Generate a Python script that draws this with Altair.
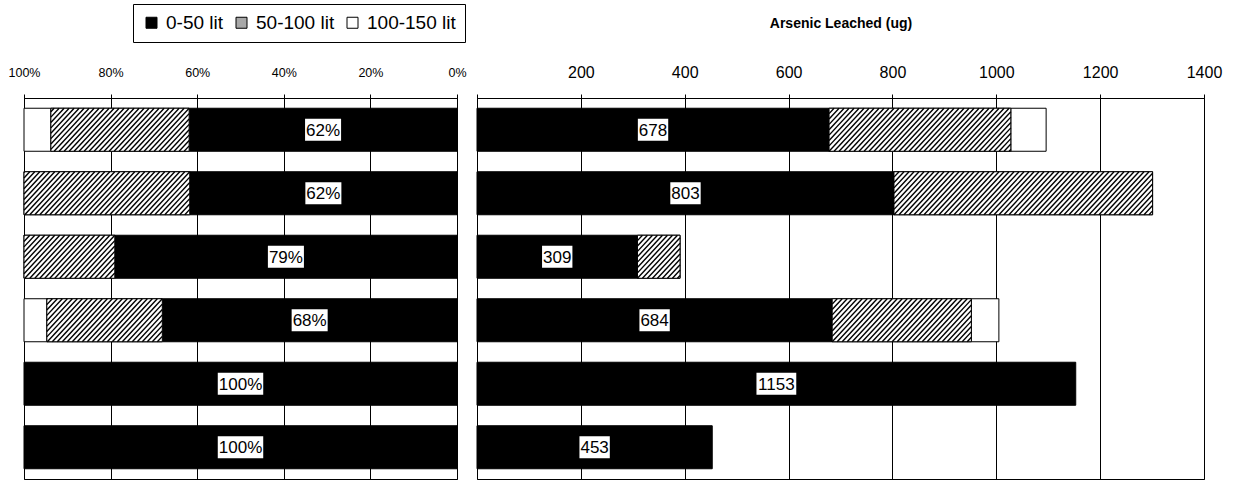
import altair as alt
import pandas as pd

# ---------------- data ----------------
row_ids = [1, 2, 3, 4, 5, 6]
segments = ["0-50 lit", "50-100 lit", "100-150 lit"]
leach_0_50 = [678, 803, 309, 684, 1153, 453]
leach_50_100 = [350, 498, 82, 268, 0, 0]
leach_100_150 = [68, 0, 0, 53, 0, 0]
pct_ticks = [0, 20, 40, 60, 80, 100]
ug_ticks = [0, 200, 400, 600, 800, 1000, 1200, 1400]
right_title = "Arsenic Leached (ug)"

# ---------------- build table ----------------
records = []
for i, r in enumerate(row_ids):
    vals = [leach_0_50[i], leach_50_100[i], leach_100_150[i]]
    total = sum(vals)
    cum = 0
    for seg, v in zip(segments, vals):
        if v <= 0:
            continue
        rec = dict(row=r, seg=seg, vstart=cum, vend=cum + v,
                   pstart=cum / total * 100, pend=(cum + v) / total * 100,
                   plabel="", vlabel="")
        if seg == segments[0]:
            rec["plabel"] = f"{round(v / total * 100)}%"
            rec["vlabel"] = str(v)
        records.append(rec)
        cum += v
df = pd.DataFrame(records)

# ---------------- styling constants ----------------
FONT = "Liberation Sans"
H = 0.3386          # half bar thickness in row units
LEFT_W, RIGHT_W, PLOT_H = 433, 727, 381
HATCH_SP = 5.0      # px between hatch lines (horizontal)
HATCH_D = 40.0      # px horizontal shift of a hatch line over bar height
LABEL_FS = 17
HATCH_LEGEND_GRAY = "#a8a8a8"

CHAR_W = {"%": 0.889}


def box_shape(text, fs=LABEL_FS, pad=2, h=22, unit=10):
    w = sum(CHAR_W.get(c, 0.556) for c in text) * fs + pad
    hw, hh = w / 2 / unit, h / 2 / unit
    return f"M{-hw:.3f},{-hh:.3f}H{hw:.3f}V{hh:.3f}H{-hw:.3f}Z"


def panel(a, b, domain, reverse, axis, ppu, sign, labfield, legend, width):
    ysc = alt.Scale(domain=[0.5, 6.5], reverse=True, nice=False, zero=False)
    xsc = alt.Scale(domain=domain, reverse=reverse, nice=False, zero=False)
    base = alt.Chart(df).transform_calculate(ylo=f"datum.row - {H}", yhi=f"datum.row + {H}")

    bars = base.mark_rect(stroke="black", strokeWidth=1).encode(
        x=alt.X(f"{a}:Q", scale=xsc, axis=axis),
        x2=f"{b}:Q",
        y=alt.Y("ylo:Q", scale=ysc, axis=None),
        y2="yhi:Q",
        color=alt.Color("seg:N", scale=alt.Scale(domain=segments, range=["black", HATCH_LEGEND_GRAY, "white"]),
                        legend=legend),
    )

    white = base.transform_filter(alt.datum.seg == segments[1]).mark_rect(
        fill="white", stroke="black", strokeWidth=1).encode(
        x=alt.X(f"{a}:Q", scale=xsc, axis=axis), x2=f"{b}:Q",
        y=alt.Y("ylo:Q", scale=ysc, axis=None), y2="yhi:Q")

    sp = HATCH_SP / ppu
    d = sign * HATCH_D / ppu
    ad = abs(d)
    hatch = (alt.Chart(df)
             .transform_filter(alt.datum.seg == segments[1])
             .transform_calculate(k=f"sequence(0, ceil((datum.{b} - datum.{a} + {2 * ad})/{sp}) + 1)")
             .transform_flatten(["k"])
             .transform_calculate(vb=f"datum.{a} - {ad} + datum.k * {sp}")
             .transform_calculate(ta=f"(datum.{a} - datum.vb) / ({d})", tb=f"(datum.{b} - datum.vb) / ({d})")
             .transform_calculate(t0="max(0, min(datum.ta, datum.tb))", t1="min(1, max(datum.ta, datum.tb))")
             .transform_filter("datum.t1 > datum.t0")
             .transform_calculate(hx1=f"datum.vb + datum.t0 * ({d})", hx2=f"datum.vb + datum.t1 * ({d})",
                                  hy1=f"datum.row + {H} - datum.t0 * {2 * H}",
                                  hy2=f"datum.row + {H} - datum.t1 * {2 * H}")
             .mark_rule(color="black", strokeWidth=1.4)
             .encode(x=alt.X("hx1:Q", scale=xsc, axis=axis), x2="hx2:Q",
                     y=alt.Y("hy1:Q", scale=ysc, axis=None), y2="hy2:Q"))

    labels = list(dict.fromkeys(df.loc[df.seg == segments[0], labfield]))
    lab_base = base.transform_filter(alt.datum.seg == segments[0]).transform_calculate(
        mid=f"(datum.{a} + datum.{b}) / 2")
    boxes = lab_base.mark_point(filled=True, color="white", opacity=1, size=400, strokeWidth=0).encode(
        x=alt.X("mid:Q", scale=xsc, axis=axis), y=alt.Y("row:Q", scale=ysc, axis=None),
        shape=alt.Shape(f"{labfield}:N", scale=alt.Scale(domain=labels, range=[box_shape(t) for t in labels]),
                        legend=None))
    texts = lab_base.mark_text(fontSize=LABEL_FS, color="black", font=FONT, dy=1).encode(
        x=alt.X("mid:Q", scale=xsc, axis=axis), y=alt.Y("row:Q", scale=ysc, axis=None), text=f"{labfield}:N")

    return alt.layer(bars, white, hatch, boxes, texts).properties(width=width, height=PLOT_H)


left_axis = alt.Axis(orient="top", values=pct_ticks, labelExpr="datum.value + '%'", grid=True,
                     labelFontSize=12.5, labelPadding=15, labelFlush=False, title=None, tickSize=4)
right_axis = alt.Axis(orient="top", values=ug_ticks, labelExpr="datum.value == 0 ? '' : datum.value",
                      grid=True, labelFontSize=16, labelPadding=14, labelFlush=False, tickSize=4,
                      title=right_title, titleFontSize=14, titleFontWeight="bold", titlePadding=34)

legend = alt.Legend(orient="none", legendX=109, legendY=-94, direction="horizontal", columns=3, title=None,
                    labelFontSize=19, labelFont=FONT, labelColor="black", symbolType="square", symbolSize=121,
                    symbolStrokeColor="black", symbolStrokeWidth=1, strokeColor="black", padding=9,
                    columnPadding=8, labelOffset=5, fillColor="white")

left = panel("pstart", "pend", [0, 100], True, left_axis, LEFT_W / 100.0, -1, "plabel", legend, LEFT_W)
right = panel("vstart", "vend", [0, 1400], False, right_axis, RIGHT_W / 1400.0, 1, "vlabel", None, RIGHT_W)

chart = (alt.hconcat(left, right, spacing=20)
         .resolve_scale(color="independent", shape="independent")
         .properties(bounds="flush", padding={"left": 7, "top": 3, "right": 4, "bottom": 3})
         .configure(font=FONT, background="white")
         .configure_view(stroke="black", strokeWidth=1)
         .configure_axis(labelColor="black", titleColor="black", tickColor="black", domainColor="black",
                         gridColor="black", gridOpacity=1, gridWidth=1, domainWidth=1, tickWidth=1,
                         labelFont=FONT, titleFont=FONT))

chart.save("out.html", embed_options={"renderer": "svg", "actions": False})
